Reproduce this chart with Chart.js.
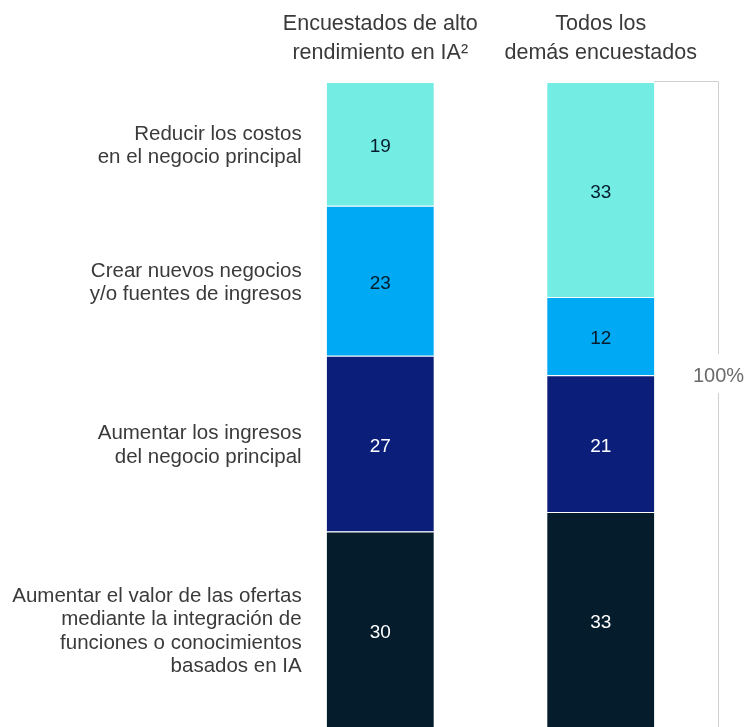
<!DOCTYPE html>
<html>
<head>
<meta charset="utf-8">
<style>
  html, body { margin: 0; padding: 0; background: #fff; }
  #wrap { width: 749px; height: 727px; position: relative; }
</style>
<script src="https://cdn.jsdelivr.net/npm/chart.js@4.4.1/dist/chart.umd.min.js"></script>
</head>
<body>
<div id="wrap"><canvas id="c" width="749" height="727"></canvas></div>
<script>
// ---- data ----
const groups = [
  ["Encuestados de alto", "rendimiento en IA\u00B2"],
  ["Todos los", "demás encuestados"]
];
// stacked from bottom to top
const categoryLabels = [
  ["Aumentar el valor de las ofertas", "mediante la integración de", "funciones o conocimientos", "basados en IA"],
  ["Aumentar los ingresos", "del negocio principal"],
  ["Crear nuevos negocios", "y/o fuentes de ingresos"],
  ["Reducir los costos", "en el negocio principal"]
];
const valoresAumentarValor   = [30, 33];
const valoresAumentarIngresos = [27, 21];
const valoresCrearNegocios   = [23, 12];
const valoresReducirCostos   = [19, 33];
const totalLabel = "100%";

const colors = ["#051C2C", "#0B1F7A", "#00A9F4", "#73EDE3"];
const textColors = ["#ffffff", "#ffffff", "#051C2C", "#051C2C"];
const series = [valoresAumentarValor, valoresAumentarIngresos, valoresCrearNegocios, valoresReducirCostos];

const FONT = "'Liberation Sans', Arial, sans-serif";

const overlay = {
  id: 'overlay',
  afterDatasetsDraw(chart) {
    const ctx = chart.ctx;
    const x = chart.scales.x, y = chart.scales.y;
    ctx.save();
    // value labels
    ctx.font = "19px " + FONT;
    ctx.textAlign = "center";
    ctx.textBaseline = "middle";
    chart.data.datasets.forEach((ds, di) => {
      const meta = chart.getDatasetMeta(di);
      meta.data.forEach((bar, i) => {
        const yc = (bar.y + bar.base) / 2;
        ctx.fillStyle = textColors[di];
        ctx.fillText(String(ds.data[i]), bar.x, yc + 3);
      });
    });
    // group headers
    ctx.fillStyle = "#3a3a3a";
    ctx.font = "21.5px " + FONT;
    ctx.textBaseline = "middle";
    groups.forEach((g, i) => {
      const xc = x.getPixelForValue(i);
      g.forEach((line, li) => ctx.fillText(line, xc, 24 + li * 29));
    });
    // category labels (aligned with the first bar's segments)
    ctx.font = "20.5px " + FONT;
    ctx.textAlign = "right";
    ctx.fillStyle = "#3a3a3a";
    const m0 = chart.getDatasetMeta(0).data[0];
    const leftEdge = m0.x - m0.width / 2;
    chart.data.datasets.forEach((ds, di) => {
      const bar = chart.getDatasetMeta(di).data[0];
      const yc = (bar.y + bar.base) / 2;
      const lines = categoryLabels[di];
      const lh = 23.5;
      const start = yc - (lines.length - 1) * lh / 2 + 2;
      lines.forEach((l, li) => ctx.fillText(l, leftEdge - 25, start + li * lh));
    });
    // bracket
    const b1 = chart.getDatasetMeta(3).data[1];
    const rightEdge = b1.x + b1.width / 2;
    const bx = 718.5;
    const top = y.getPixelForValue(99) - 0.5;
    const bottom = y.getPixelForValue(0);
    ctx.strokeStyle = "#cfcfcf";
    ctx.lineWidth = 1;
    const mid = 376;
    ctx.beginPath();
    ctx.moveTo(rightEdge, top); ctx.lineTo(bx, top);
    ctx.lineTo(bx, mid - 22);
    ctx.moveTo(bx, mid + 17); ctx.lineTo(bx, bottom);
    ctx.stroke();
    ctx.fillStyle = "#6a6a6a";
    ctx.font = "20px " + FONT;
    ctx.textAlign = "center";
    ctx.fillText(totalLabel, bx, mid);
    ctx.restore();
  }
};

new Chart(document.getElementById('c'), {
  type: 'bar',
  data: {
    labels: groups.map(g => g.join(' ')),
    datasets: series.map((s, i) => ({
      label: categoryLabels[i].join(' '),
      data: s,
      backgroundColor: colors[i],
      borderColor: '#ffffff',
      borderWidth: { top: 1, bottom: 0, left: 0, right: 0 },
      borderSkipped: false,
      categoryPercentage: 0.486,
      barPercentage: 1
    }))
  },
  options: {
    responsive: false,
    animation: false,
    layout: { padding: { left: 270, right: 38, top: 82, bottom: 0 } },
    plugins: { legend: { display: false }, tooltip: { enabled: false } },
    scales: {
      x: { stacked: true, display: false },
      y: { stacked: true, display: false, min: 0, max: 99 }
    }
  },
  plugins: [overlay]
});
</script>
</body>
</html>
